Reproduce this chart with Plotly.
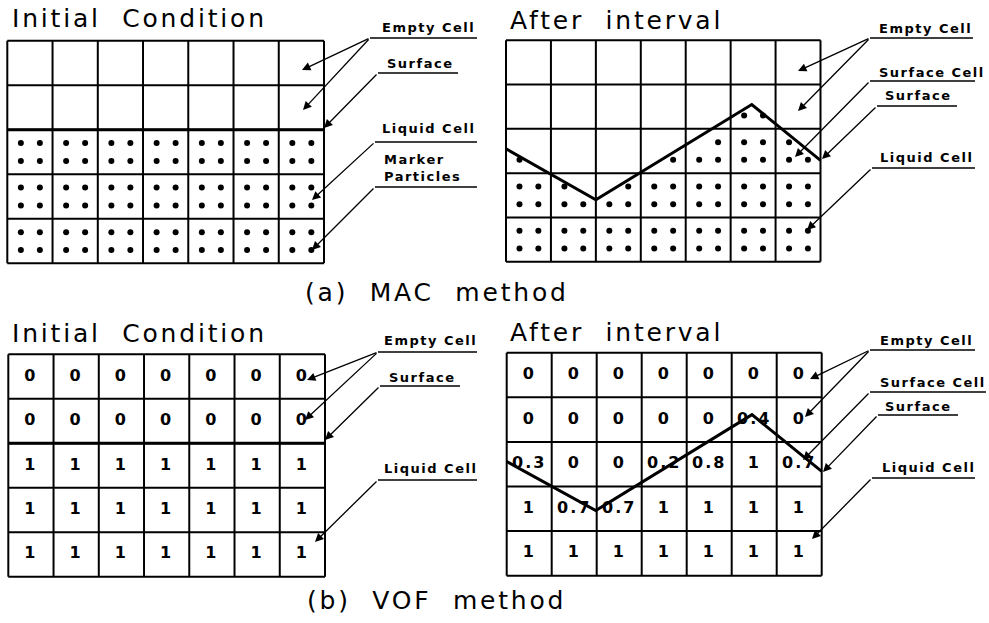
import plotly.graph_objects as go

# ---------------- data ----------------
N_COLS, N_ROWS = 7, 5

# MAC particle occupancy per cell (rows top -> bottom); bits = TL, TR, BL, BR
mac_initial_particles = [
    ["0000"] * 7,
    ["0000"] * 7,
    ["1111"] * 7,
    ["1111"] * 7,
    ["1111"] * 7,
]
mac_after_particles = [
    ["0000", "0000", "0000", "0000", "0000", "0000", "0000"],
    ["0000", "0000", "0000", "0000", "0000", "0011", "0000"],
    ["0010", "0000", "0000", "0001", "0111", "1111", "1011"],
    ["1111", "1011", "0111", "1111", "1111", "1111", "1111"],
    ["1111", "1111", "1111", "1111", "1111", "1111", "1111"],
]

# VOF fraction values (rows top -> bottom)
vof_initial = [
    [0, 0, 0, 0, 0, 0, 0],
    [0, 0, 0, 0, 0, 0, 0],
    [1, 1, 1, 1, 1, 1, 1],
    [1, 1, 1, 1, 1, 1, 1],
    [1, 1, 1, 1, 1, 1, 1],
]
vof_after = [
    [0, 0, 0, 0, 0, 0, 0],
    [0, 0, 0, 0, 0, 0.4, 0],
    [0.3, 0, 0, 0.2, 0.8, 1, 0.7],
    [1, 0.7, 0.7, 1, 1, 1, 1],
    [1, 1, 1, 1, 1, 1, 1],
]

initial_surface_level = 3  # liquid depth in cells
mac_surface_x = [0, 2.0, 5.47, 7]
mac_surface_y = [2.55, 1.40, 3.55, 2.29]
vof_surface_x = [0, 1.98, 5.45, 7]
vof_surface_y = [2.56, 1.46, 3.61, 2.34]

panel_titles = ["Initial\u00a0 Condition", "After\u00a0 interval", "Initial\u00a0 Condition", "After\u00a0 interval"]
method_captions = ["(a)\u00a0 MAC\u00a0 method", "(b)\u00a0 VOF\u00a0 method"]

# ---------------- layout geometry (pixels) ----------------
W, H = 989, 623
GEOM = {
    "a0": dict(grid=(7.3, 324.0, 40.7, 263.3), dom=(0, 494, 0, 306), ax=("x", "y")),
    "a1": dict(grid=(506.0, 820.5, 40.3, 261.7), dom=(494, 989, 0, 306), ax=("x2", "y2")),
    "b0": dict(grid=(8.3, 325.0, 354.3, 576.7), dom=(0, 494, 306, 623), ax=("x3", "y3")),
    "b1": dict(grid=(506.7, 821.7, 352.7, 575.7), dom=(494, 989, 306, 623), ax=("x4", "y4")),
}


def conv(key, px, py):
    L, R, T, B = GEOM[key]["grid"]
    sx = (R - L) / N_COLS
    sy = (B - T) / N_ROWS
    return (px - L) / sx, (B - py) / sy


# callout labels: (text, text_left_px, text_y_px, underline (x0, x1, y), arrow targets [(px, py)])
LABELS = {
    "a0": [
        ("Empty Cell", 380, 27, (370, 477, 38), [(302, 70), (303, 110)]),
        ("Surface", 385, 63, (378, 458, 73), [(324, 128)]),
        ("Liquid Cell", 380, 128, (375, 477, 142), [(312, 200)]),
        ("Marker<br>Particles", 382, 168, (375, 477, 187), [(312, 250)]),
    ],
    "a1": [
        ("Empty Cell", 877, 28, (870, 973, 38), [(798, 71), (798, 111)]),
        ("Surface Cell", 877, 72, (870, 975, 81), [(795, 157)]),
        ("Surface", 883, 95, (877, 957, 106), [(822, 159)]),
        ("Liquid Cell", 878, 157, (872, 975, 168), [(807, 230)]),
    ],
    "b0": [
        ("Empty Cell", 382, 340, (378, 477, 352), [(307, 380), (305, 420)]),
        ("Surface", 387, 377, (380, 460, 386), [(325, 440)]),
        ("Liquid Cell", 382, 468, (378, 477, 480), [(315, 542)]),
    ],
    "b1": [
        ("Empty Cell", 878, 340, (870, 975, 350), [(810, 379), (805, 417)]),
        ("Surface Cell", 878, 382, (870, 986, 392), [(803, 460)]),
        ("Surface", 883, 406, (878, 958, 415), [(823, 472)]),
        ("Liquid Cell", 880, 467, (872, 975, 478), [(812, 539)]),
    ],
}

fig = go.Figure()
annotations = []
shapes = []
BLACK = "#000000"
TITLE_FONT = dict(family="DejaVu Sans", size=25, color=BLACK)
LABEL_FONT = dict(family="DejaVu Sans", size=13, color=BLACK)
NUM_FONT = dict(family="DejaVu Sans", size=16, color=BLACK)


def add_grid(key):
    xa, ya = GEOM[key]["ax"]
    xs, ys = [], []
    for i in range(N_COLS + 1):
        xs += [i, i, None]
        ys += [0, N_ROWS, None]
    for j in range(N_ROWS + 1):
        xs += [0, N_COLS, None]
        ys += [j, j, None]
    fig.add_trace(go.Scatter(x=xs, y=ys, mode="lines", line=dict(color=BLACK, width=2),
                             xaxis=xa, yaxis=ya, hoverinfo="skip", showlegend=False))


def add_surface(key, sx, sy, width=3):
    xa, ya = GEOM[key]["ax"]
    fig.add_trace(go.Scatter(x=sx, y=sy, mode="lines", line=dict(color=BLACK, width=width),
                             xaxis=xa, yaxis=ya, hoverinfo="skip", showlegend=False))


def add_particles(key, mask):
    xa, ya = GEOM[key]["ax"]
    offs = [(0.3, 0.7), (0.72, 0.7), (0.3, 0.3), (0.72, 0.3)]
    xs, ys = [], []
    for r, row in enumerate(mask):
        for c, bits in enumerate(row):
            for b, (ox, oy) in zip(bits, offs):
                if b == "1":
                    xs.append(c + ox)
                    ys.append(N_ROWS - 1 - r + oy)
    fig.add_trace(go.Scatter(x=xs, y=ys, mode="markers", marker=dict(color=BLACK, size=6),
                             xaxis=xa, yaxis=ya, hoverinfo="skip", showlegend=False))


def add_values(key, values):
    xa, ya = GEOM[key]["ax"]
    xs, ys, ts = [], [], []
    for r, row in enumerate(values):
        for c, v in enumerate(row):
            xs.append(c + 0.5)
            ys.append(N_ROWS - 1 - r + 0.5)
            ts.append(f"<b>{v:g}</b>")
    fig.add_trace(go.Scatter(x=xs, y=ys, mode="text", text=ts, textfont=NUM_FONT,
                             textposition="middle center",
                             xaxis=xa, yaxis=ya, hoverinfo="skip", showlegend=False))


# panels
add_grid("a0")
add_surface("a0", [0, N_COLS], [initial_surface_level] * 2)
add_particles("a0", mac_initial_particles)

add_grid("a1")
add_surface("a1", mac_surface_x, mac_surface_y)
add_particles("a1", mac_after_particles)

add_grid("b0")
add_surface("b0", [0, N_COLS], [initial_surface_level] * 2)
add_values("b0", vof_initial)

add_grid("b1")
add_values("b1", vof_after)
add_surface("b1", vof_surface_x, vof_surface_y)

# callouts
for key, items in LABELS.items():
    xa, ya = GEOM[key]["ax"]
    for text, tx, ty, (u0, u1, uy), targets in items:
        x, y = conv(key, tx, ty)
        annotations.append(dict(x=x, y=y, xref=xa, yref=ya, text=f"<b>{text}</b>", showarrow=False,
                                xanchor="left", yanchor="middle", font=LABEL_FONT, align="left"))
        ux0, uyy = conv(key, u0, uy)
        ux1, _ = conv(key, u1, uy)
        shapes.append(dict(type="line", xref=xa, yref=ya, x0=ux0, x1=ux1, y0=uyy, y1=uyy,
                           line=dict(color=BLACK, width=1.5)))
        for (px, py) in targets:
            hx, hy = conv(key, px, py)
            annotations.append(dict(x=hx, y=hy, xref=xa, yref=ya, ax=ux0, ay=uyy, axref=xa, ayref=ya,
                                    text="", showarrow=True, arrowhead=2, arrowsize=1.3,
                                    arrowwidth=1.3, arrowcolor=BLACK, standoff=0, startstandoff=0))

# titles
title_pos = [(10, 19), (508, 21), (10, 333), (508, 332)]
for t, (px, py) in zip(panel_titles, title_pos):
    annotations.append(dict(x=px / W, y=1 - py / H, xref="paper", yref="paper", text=t, align="left",
                            showarrow=False, xanchor="left", yanchor="middle", font=TITLE_FONT))
cap_pos = [(303, 293), (305, 600)]
for t, (px, py) in zip(method_captions, cap_pos):
    annotations.append(dict(x=px / W, y=1 - py / H, xref="paper", yref="paper", text=t, align="left",
                            showarrow=False, xanchor="left", yanchor="middle", font=TITLE_FONT))

layout_axes = {}
for i, key in enumerate(["a0", "a1", "b0", "b1"]):
    L, R, T, B = GEOM[key]["grid"]
    dx0, dx1, dy0, dy1 = GEOM[key]["dom"]
    xr0, _ = conv(key, dx0, 0)
    xr1, _ = conv(key, dx1, 0)
    _, yr0 = conv(key, 0, dy1)
    _, yr1 = conv(key, 0, dy0)
    sfx = "" if i == 0 else str(i + 1)
    layout_axes["xaxis" + sfx] = dict(domain=[dx0 / W, dx1 / W], range=[xr0, xr1], visible=False,
                                      fixedrange=True, anchor="y" + sfx)
    layout_axes["yaxis" + sfx] = dict(domain=[1 - dy1 / H, 1 - dy0 / H], range=[yr0, yr1], visible=False,
                                      fixedrange=True, anchor="x" + sfx)

fig.update_layout(width=W, height=H, margin=dict(l=0, r=0, t=0, b=0),
                  paper_bgcolor="white", plot_bgcolor="white",
                  annotations=annotations, shapes=shapes, showlegend=False, **layout_axes)

POST = """
document.body.style.margin='0';
document.querySelectorAll('.annotation-text').forEach(function(e){
  var fs = parseFloat(e.style.fontSize);
  e.style.letterSpacing = (fs > 20) ? '2.8px' : '1.5px';
});
document.querySelectorAll('.textpoint text').forEach(function(e){
  e.style.letterSpacing = '2px';
});
"""

fig.write_html("out.html", config={"displayModeBar": False}, post_script=POST)
